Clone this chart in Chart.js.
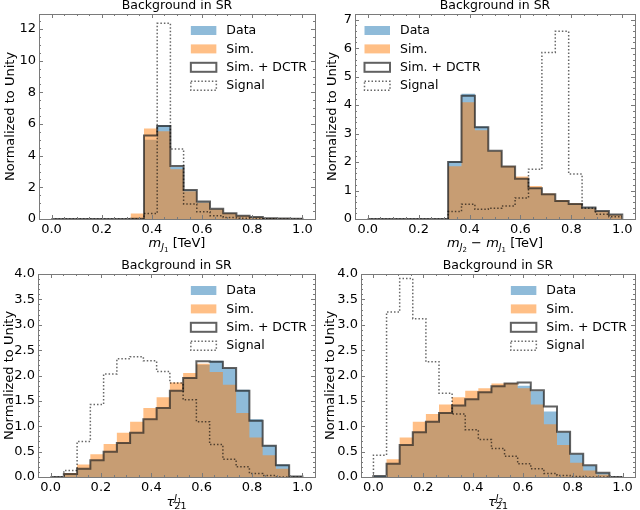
<!DOCTYPE html>
<html>
<head>
<meta charset="utf-8">
<script src="https://cdn.jsdelivr.net/npm/chart.js@4.4.1/dist/chart.umd.min.js"></script>
<style>
  html, body { margin: 0; padding: 0; background: #fff; }
  #wrap { position: relative; width: 640px; height: 510px; }
  canvas { position: absolute; }
</style>
</head>
<body>
<div id="wrap">
  <canvas id="c1" width="320" height="255" style="left:0;top:0"></canvas>
  <canvas id="c2" width="320" height="255" style="left:320px;top:0"></canvas>
  <canvas id="c3" width="320" height="255" style="left:0;top:255px"></canvas>
  <canvas id="c4" width="320" height="255" style="left:320px;top:255px"></canvas>
</div>
<script>
// 19 bins between 0 and 1
const BIN_EDGES = [0, 0.05263, 0.10526, 0.15789, 0.21053, 0.26316, 0.31579, 0.36842, 0.42105, 0.47368,
                   0.52632, 0.57895, 0.63158, 0.68421, 0.73684, 0.78947, 0.84211, 0.89474, 0.94737, 1.0];
const X_TICKS = [0, 0.2, 0.4, 0.6, 0.8, 1.0];

// m_J1
const MJ1_DATA   = [0, 0, 0, 0, 0, 0, 0.02, 5.00, 5.92, 3.28, 1.82, 1.09, 0.63, 0.37, 0.20, 0.12, 0.05, 0.03, 0.01];
const MJ1_SIM    = [0, 0, 0, 0, 0, 0, 0.35, 5.72, 5.55, 3.15, 1.75, 1.05, 0.62, 0.36, 0.20, 0.11, 0.05, 0.03, 0.01];
const MJ1_DCTR   = [0, 0, 0, 0, 0, 0, 0.02, 5.27, 5.87, 3.35, 1.83, 1.10, 0.64, 0.37, 0.21, 0.12, 0.05, 0.03, 0.01];
const MJ1_SIGNAL = [0, 0, 0, 0, 0, 0, 0, 0.35, 12.36, 4.42, 0.95, 0.46, 0.21, 0.10, 0.05, 0.02, 0.01, 0, 0];
const MJ1_YTICKS = [0, 2, 4, 6, 8, 10, 12];

// m_J2 - m_J1
const DM_DATA   = [0, 0, 0, 0, 0, 0, 2.03, 4.40, 3.25, 2.38, 1.83, 1.40, 1.08, 0.86, 0.63, 0.53, 0.40, 0.28, 0.16];
const DM_SIM    = [0, 0, 0, 0, 0, 0, 1.85, 4.10, 3.12, 2.38, 1.86, 1.49, 1.16, 0.90, 0.67, 0.55, 0.38, 0.27, 0.15];
const DM_DCTR   = [0, 0, 0, 0, 0, 0, 2.00, 4.33, 3.22, 2.40, 1.84, 1.41, 1.08, 0.87, 0.63, 0.53, 0.40, 0.28, 0.16];
const DM_SIGNAL = [0, 0, 0, 0, 0, 0, 0.26, 0.52, 0.34, 0.38, 0.46, 0.74, 1.75, 5.85, 6.59, 1.58, 0.38, 0.17, 0.08];
const DM_YTICKS = [0, 1, 2, 3, 4, 5, 6, 7];

// tau21 J1
const T1_DATA   = [0, 0.05, 0.16, 0.32, 0.49, 0.66, 0.86, 1.12, 1.34, 1.69, 1.94, 2.21, 2.29, 2.14, 1.72, 1.14, 0.62, 0.245, 0.01];
const T1_SIM    = [0, 0.08, 0.245, 0.45, 0.65, 0.87, 1.09, 1.36, 1.57, 1.86, 2.05, 2.23, 2.07, 1.82, 1.26, 0.78, 0.43, 0.165, 0.005];
const T1_DCTR   = [0, 0.06, 0.165, 0.33, 0.50, 0.67, 0.87, 1.14, 1.36, 1.70, 1.95, 2.28, 2.27, 2.15, 1.70, 1.11, 0.615, 0.23, 0.01];
const T1_SIGNAL = [0, 0.13, 0.70, 1.43, 2.03, 2.33, 2.37, 2.29, 2.08, 1.85, 1.52, 1.09, 0.64, 0.35, 0.20, 0.07, 0.03, 0, 0];

// tau21 J2
const T2_DATA   = [0.02, 0.25, 0.62, 0.87, 1.08, 1.25, 1.40, 1.52, 1.66, 1.78, 1.83, 1.80, 1.69, 1.29, 0.88, 0.45, 0.22, 0.08, 0];
const T2_SIM    = [0, 0.35, 0.78, 1.09, 1.24, 1.43, 1.57, 1.70, 1.75, 1.84, 1.85, 1.75, 1.43, 1.04, 0.63, 0.28, 0.13, 0.05, 0];
const T2_DCTR   = [0.02, 0.26, 0.63, 0.88, 1.09, 1.26, 1.41, 1.53, 1.67, 1.79, 1.84, 1.86, 1.71, 1.39, 0.89, 0.46, 0.23, 0.085, 0];
const T2_SIGNAL = [0.43, 3.25, 3.91, 3.12, 2.27, 1.65, 1.24, 0.93, 0.74, 0.56, 0.41, 0.26, 0.165, 0.07, 0.03, 0.01, 0, 0, 0];
const TAU_YTICKS = [0, 0.5, 1.0, 1.5, 2.0, 2.5, 3.0, 3.5, 4.0];

const LABELS = ['Data', 'Sim.', 'Sim. + DCTR', 'Signal'];

const BLUE = 'rgba(31,119,180,0.5)';
const ORANGE = 'rgba(255,127,14,0.5)';
const DCTR_COLOR = 'rgba(30,30,30,0.7)';
const SIG_COLOR = 'rgba(0,0,0,0.6)';
const FRAME = '#7a7a7a';
const FONT = '"DejaVu Sans", sans-serif';

// histogram outline points: start at 0, one point per bin, drop back to 0
function steps(vals) {
  const pts = [{ x: BIN_EDGES[0], y: 0 }];
  vals.forEach((v, i) => pts.push({ x: BIN_EDGES[i], y: v }));
  pts.push({ x: BIN_EDGES[BIN_EDGES.length - 1], y: 0 });
  return pts;
}

// draw a run of text pieces (for sub/superscripts)
function drawRuns(ctx, runs, cx, baseY) {
  let x = 0, mark = 0, maxX = 0;
  runs.forEach(r => {
    ctx.font = (r.it ? 'italic ' : '') + r.s + 'px ' + FONT;
    if (r.mark) mark = x;
    if (r.back) x = mark;
    r._x = x;
    x += ctx.measureText(r.t).width;
    maxX = Math.max(maxX, x);
  });
  const x0 = cx - maxX / 2;
  ctx.fillStyle = '#000';
  ctx.textAlign = 'left';
  ctx.textBaseline = 'alphabetic';
  runs.forEach(r => {
    ctx.font = (r.it ? 'italic ' : '') + r.s + 'px ' + FONT;
    ctx.fillText(r.t, x0 + r._x, baseY + (r.dy || 0));
  });
}

const decor = {
  id: 'decor',
  afterDraw(chart, args, o) {
    const { ctx, chartArea: a } = chart;
    const xs = chart.scales.x, ys = chart.scales.y;
    ctx.save();

    // inward ticks on all sides
    ctx.strokeStyle = FRAME;
    ctx.lineWidth = 1;
    const tick = (len, list, scale, horiz) => {
      list.forEach(v => {
        const p = Math.round(scale.getPixelForValue(v)) + 0.5;
        ctx.beginPath();
        if (horiz) {
          ctx.moveTo(p, a.bottom); ctx.lineTo(p, a.bottom - len);
          ctx.moveTo(p, a.top); ctx.lineTo(p, a.top + len);
        } else {
          ctx.moveTo(a.left, p); ctx.lineTo(a.left + len, p);
          ctx.moveTo(a.right, p); ctx.lineTo(a.right - len, p);
        }
        ctx.stroke();
      });
    };
    const minors = (min, max, step, majors) => {
      const out = [];
      for (let k = Math.ceil(min / step - 1e-6); k * step <= max + 1e-6; k++) {
        const v = k * step;
        if (!majors.some(m => Math.abs(m - v) < 1e-6)) out.push(v);
      }
      return out;
    };
    tick(4, X_TICKS, xs, true);
    tick(2, minors(-0.05, 1.05, 0.05, X_TICKS), xs, true);
    tick(4, o.yTicks, ys, false);
    tick(2, minors(0, o.ymax, o.yMinor, o.yTicks), ys, false);

    // frame
    ctx.strokeRect(Math.round(a.left) + 0.5, Math.round(a.top) + 0.5,
                   Math.round(a.right - a.left), Math.round(a.bottom - a.top));

    // title
    ctx.fillStyle = '#000';
    ctx.font = '12.5px ' + FONT;
    ctx.textAlign = 'center';
    ctx.textBaseline = 'middle';
    ctx.fillText('Background in SR', (a.left + a.right) / 2, a.top - 8);

    // y label
    ctx.save();
    ctx.translate(o.ylabelX, (a.top + a.bottom) / 2);
    ctx.rotate(-Math.PI / 2);
    ctx.font = '13px ' + FONT;
    ctx.fillText('Normalized to Unity', 0, 0);
    ctx.restore();

    // x label
    drawRuns(ctx, o.xlabel, (a.left + a.right) / 2, a.bottom + o.xlabelDy);

    // legend
    ctx.font = '12.5px ' + FONT;
    const tw = Math.max(...LABELS.map(l => ctx.measureText(l).width));
    const pw = 25.5, ph = 9, gap = 10;
    const px = o.legendSide === 'left' ? a.left + 9.5 : a.right - 8 - tw - gap - pw;
    chart.data.datasets.forEach((d, i) => {
      const cy = a.top + 16.5 + i * 18.4;
      ctx.save();
      if (d.kind === 'fill') {
        ctx.fillStyle = d.backgroundColor;
        ctx.fillRect(px, cy - ph / 2, pw, ph);
      } else {
        ctx.fillStyle = '#fff';
        ctx.fillRect(px, cy - ph / 2, pw, ph);
        ctx.strokeStyle = d.borderColor;
        ctx.lineWidth = d.borderWidth;
        ctx.setLineDash(d.borderDash || []);
        ctx.strokeRect(px, cy - ph / 2, pw, ph);
      }
      ctx.restore();
      ctx.fillStyle = '#000';
      ctx.textAlign = 'left';
      ctx.textBaseline = 'middle';
      ctx.fillText(d.label, px + pw + gap, cy + 0.5);
    });

    ctx.restore();
  }
};

function makeChart(id, cfg) {
  const datasets = [
    { label: LABELS[0], kind: 'fill', data: steps(cfg.data), backgroundColor: BLUE,
      borderColor: 'transparent', borderWidth: 0, fill: 'origin', order: 4 },
    { label: LABELS[1], kind: 'fill', data: steps(cfg.sim), backgroundColor: ORANGE,
      borderColor: 'transparent', borderWidth: 0, fill: 'origin', order: 3 },
    { label: LABELS[2], kind: 'line', data: steps(cfg.dctr), borderColor: DCTR_COLOR,
      borderWidth: 2, fill: false, order: 2 },
    { label: LABELS[3], kind: 'dot', data: steps(cfg.signal), borderColor: SIG_COLOR,
      borderWidth: 1.5, borderDash: [1.5, 2], fill: false, order: 1 }
  ];
  datasets.forEach(d => { d.stepped = true; d.pointRadius = 0; d.pointHoverRadius = 0; d.tension = 0; });

  return new Chart(document.getElementById(id), {
    type: 'line',
    data: { datasets },
    options: {
      responsive: false,
      animation: false,
      events: [],
      layout: { padding: { left: 0, right: 5, top: cfg.top, bottom: 0 } },
      scales: {
        x: {
          type: 'linear', min: -0.05, max: 1.05,
          afterBuildTicks: s => { s.ticks = X_TICKS.map(v => ({ value: v })); },
          afterFit: s => { s.height = 255 - cfg.bottom; },
          grid: { display: false, drawTicks: false },
          border: { display: false },
          ticks: { color: '#000', font: { family: FONT, size: 13 }, padding: 3,
                   maxRotation: 0, autoSkip: false, callback: v => v.toFixed(1) }
        },
        y: {
          type: 'linear', min: 0, max: cfg.ymax,
          afterBuildTicks: s => { s.ticks = cfg.yTicks.map(v => ({ value: v })); },
          afterFit: s => { s.width = cfg.left; },
          grid: { display: false, drawTicks: false },
          border: { display: false },
          ticks: { color: '#000', font: { family: FONT, size: 13 }, padding: 3,
                   autoSkip: false, callback: cfg.yfmt }
        }
      },
      plugins: {
        legend: { display: false },
        title: { display: false },
        tooltip: { enabled: false },
        decor: {
          yTicks: cfg.yTicks, ymax: cfg.ymax, yMinor: cfg.yMinor,
          ylabelX: cfg.ylabelX, xlabel: cfg.xlabel, xlabelDy: cfg.xlabelDy,
          legendSide: cfg.legendSide
        }
      }
    },
    plugins: [decor]
  });
}

const mLabel = n => [
  { t: 'm', it: true, s: 13 },
  { t: 'J', it: true, s: 9.5, dy: 3 },
  { t: n, s: 7, dy: 5 }
];
const tauLabel = n => [
  { t: 'τ', it: true, s: 13 },
  { t: 'J', it: true, s: 9.5, dy: -5.5, mark: true },
  { t: n, s: 7, dy: -3.5 },
  { t: '21', s: 9.5, dy: 3, back: true }
];

makeChart('c1', {
  data: MJ1_DATA, sim: MJ1_SIM, dctr: MJ1_DCTR, signal: MJ1_SIGNAL,
  ymax: 12.95, yTicks: MJ1_YTICKS, yMinor: 0.5, yfmt: v => String(v),
  left: 39, top: 14, bottom: 219, ylabelX: 11, xlabelDy: 28, legendSide: 'right',
  xlabel: [...mLabel('1'), { t: ' [TeV]', s: 13 }]
});
makeChart('c2', {
  data: DM_DATA, sim: DM_SIM, dctr: DM_DCTR, signal: DM_SIGNAL,
  ymax: 7.2, yTicks: DM_YTICKS, yMinor: 0.2, yfmt: v => String(v),
  left: 35, top: 14, bottom: 219, ylabelX: 13, xlabelDy: 28, legendSide: 'left',
  xlabel: [...mLabel('2'), { t: ' − ', s: 13 }, ...mLabel('1'), { t: ' [TeV]', s: 13 }]
});
makeChart('c3', {
  data: T1_DATA, sim: T1_SIM, dctr: T1_DCTR, signal: T1_SIGNAL,
  ymax: 4.0, yTicks: TAU_YTICKS, yMinor: 0.1, yfmt: v => v.toFixed(1),
  left: 38, top: 19, bottom: 222, ylabelX: 10, xlabelDy: 29, legendSide: 'right',
  xlabel: tauLabel('1')
});
makeChart('c4', {
  data: T2_DATA, sim: T2_SIM, dctr: T2_DCTR, signal: T2_SIGNAL,
  ymax: 4.0, yTicks: TAU_YTICKS, yMinor: 0.1, yfmt: v => v.toFixed(1),
  left: 41, top: 19, bottom: 222, ylabelX: 11, xlabelDy: 29, legendSide: 'right',
  xlabel: tauLabel('2')
});
</script>
</body>
</html>
